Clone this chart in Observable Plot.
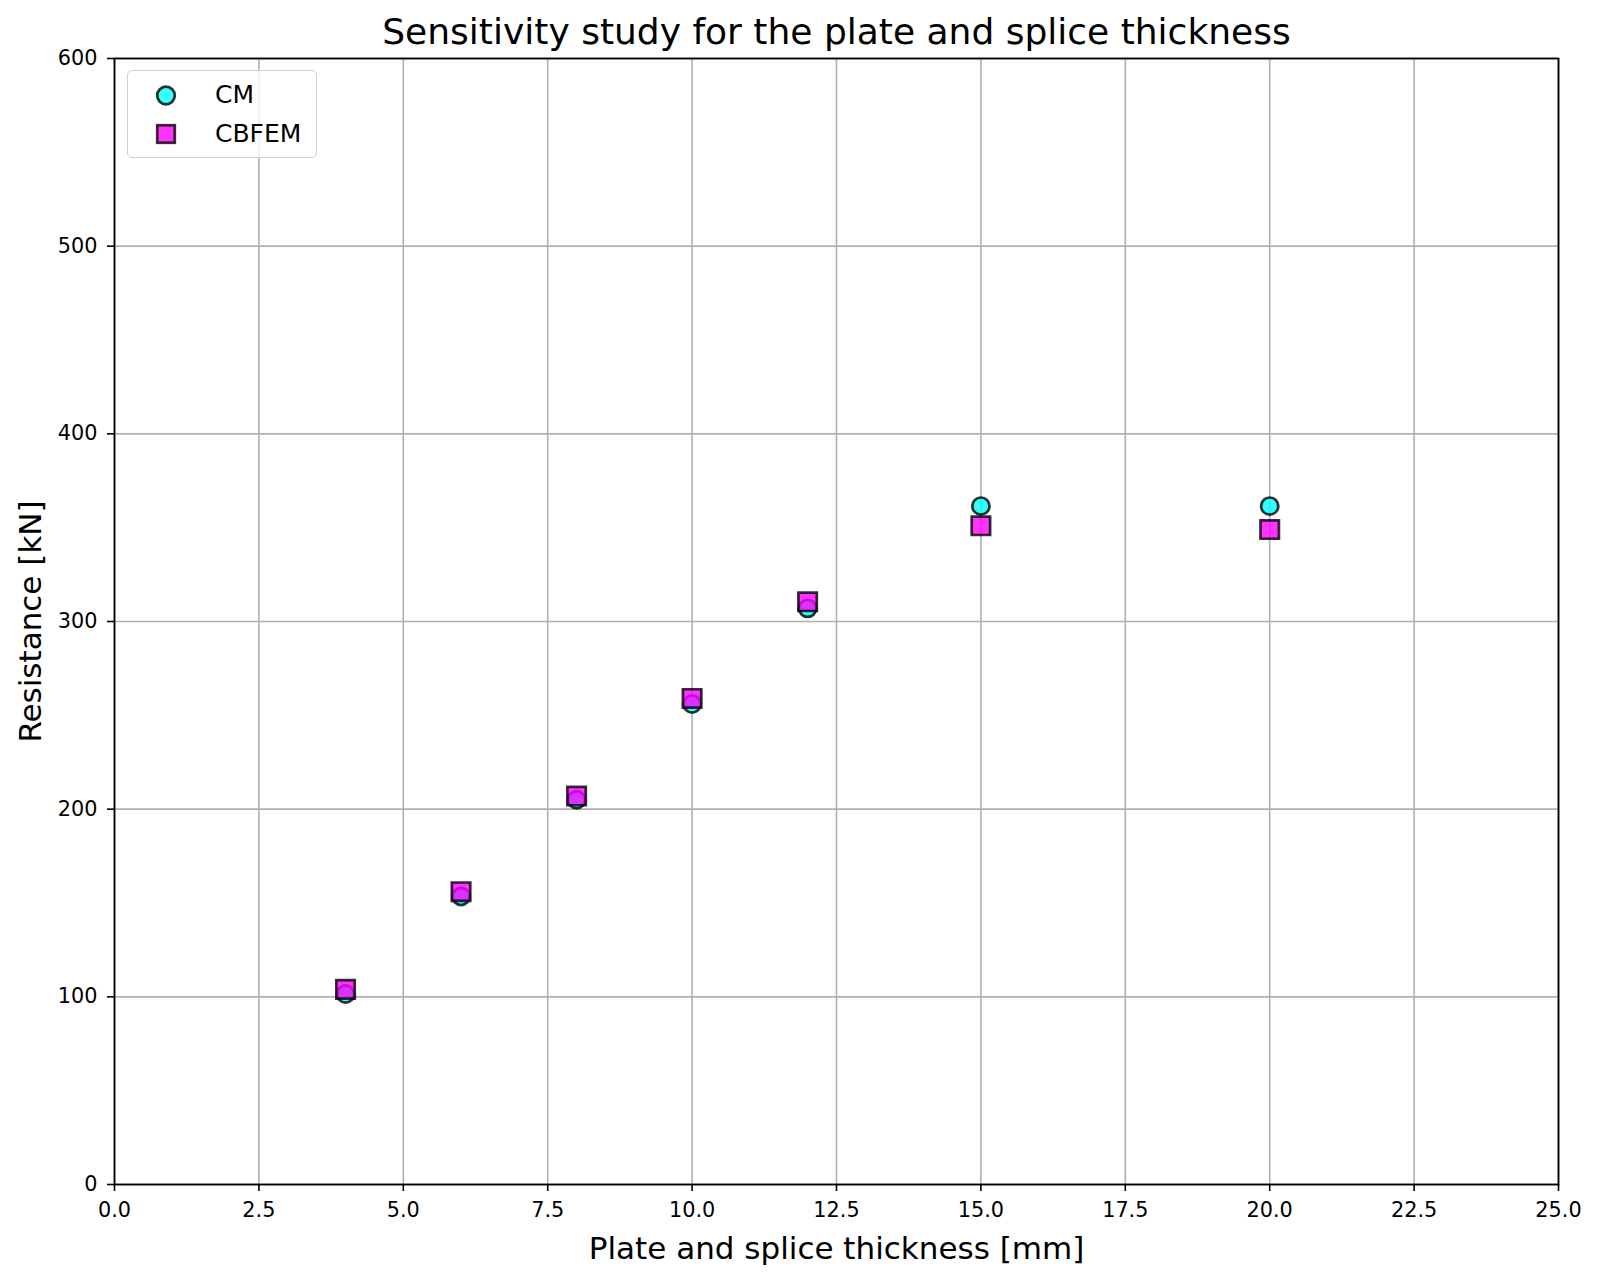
<!DOCTYPE html>
<html>
<head>
<meta charset="utf-8">
<script src="https://cdn.jsdelivr.net/npm/d3@7"></script>
<script src="https://cdn.jsdelivr.net/npm/@observablehq/plot@0.6"></script>
<style>
  html, body { margin: 0; padding: 0; background: white; }
  #wrap { position: relative; width: 1600px; height: 1279px; font-family: "DejaVu Sans", sans-serif; }
  #legend {
    position: absolute; left: 127px; top: 70px; width: 188px; height: 86px;
    border: 1.5px solid #d0d0d0; border-radius: 5px; background: rgba(255,255,255,0.8);
  }
  #legend svg { position: absolute; left: 0; top: 0; }
</style>
</head>
<body>
<div id="wrap"></div>
<script>
const titleText = "Sensitivity study for the plate and splice thickness";
const xLabelText = "Plate and splice thickness [mm]";
const yLabelText = "Resistance [kN]";
const seriesNames = ["CM", "CBFEM"];

const thickness = [4, 6, 8, 10, 12, 15, 20];
const cmValues = [101.5, 153.5, 205, 256, 307, 361.5, 361.5];
const cbfemValues = [104, 156, 207, 259, 310.5, 351, 349];

const xTicks = [0, 2.5, 5, 7.5, 10, 12.5, 15, 17.5, 20, 22.5, 25];
const yTicks = [0, 100, 200, 300, 400, 500, 600];

const cm = thickness.map((t, i) => ({t, v: cmValues[i]}));
const cbfem = thickness.map((t, i) => ({t, v: cbfemValues[i]}));

const gridStyle = {stroke: "#b0b0b0", strokeOpacity: 1, strokeWidth: 1.6};

const chart = Plot.plot({
  width: 1600,
  height: 1279,
  marginLeft: 114,
  marginRight: 42,
  marginTop: 58,
  marginBottom: 95,
  style: {fontFamily: "DejaVu Sans", background: "white", color: "black", overflow: "visible"},
  x: {domain: [0, 25]},
  y: {domain: [0, 600]},
  marks: [
    Plot.gridX(xTicks, gridStyle),
    Plot.gridY(yTicks, gridStyle),
    Plot.dot(cm, {x: "t", y: "v", symbol: "circle", r: 8.6, fill: "cyan", fillOpacity: 0.8,
                  stroke: "black", strokeOpacity: 0.8, strokeWidth: 2.7}),
    Plot.dot(cbfem, {x: "t", y: "v", symbol: "square", r: 10.4, fill: "magenta", fillOpacity: 0.8,
                  stroke: "black", strokeOpacity: 0.8, strokeWidth: 2.7}),
    Plot.axisX(xTicks, {tickSize: 7, tickPadding: 11, fontSize: 20.8, label: null,
                        tickFormat: d3.format(".1f"), strokeWidth: 1.6}),
    Plot.axisY(yTicks, {tickSize: 7, tickPadding: 10, fontSize: 20.8, label: null,
                        tickFormat: d3.format("d"), strokeWidth: 1.6}),
    Plot.frame({stroke: "black", strokeWidth: 1.8}),
    Plot.text([titleText], {text: d => d, frameAnchor: "top", lineAnchor: "top", dy: -39.6, fontSize: 36}),
    Plot.text([xLabelText], {text: d => d, frameAnchor: "bottom", lineAnchor: "top", dy: 52.5, fontSize: 31}),
    Plot.text([yLabelText], {text: d => d, frameAnchor: "left", textAnchor: "middle", lineAnchor: "top",
                             rotate: -90, dx: -96, fontSize: 31})
  ]
});

const wrap = document.getElementById("wrap");
wrap.appendChild(chart);

// legend
const legend = document.createElement("div");
legend.id = "legend";
const ns = "http://www.w3.org/2000/svg";
const lsvg = document.createElementNS(ns, "svg");
lsvg.setAttribute("width", 188);
lsvg.setAttribute("height", 86);
const items = [
  {name: seriesNames[0], fill: "cyan", shape: "circle", cy: 24.5, base: 31.5},
  {name: seriesNames[1], fill: "magenta", shape: "square", cy: 63, base: 71}
];
for (const it of items) {
  let el;
  if (it.shape === "circle") {
    el = document.createElementNS(ns, "circle");
    el.setAttribute("cx", 38); el.setAttribute("cy", it.cy); el.setAttribute("r", 8.8);
  } else {
    el = document.createElementNS(ns, "rect");
    el.setAttribute("x", 38 - 8.8); el.setAttribute("y", it.cy - 8.8);
    el.setAttribute("width", 17.6); el.setAttribute("height", 17.6);
  }
  el.setAttribute("fill", it.fill); el.setAttribute("fill-opacity", 0.8);
  el.setAttribute("stroke", "black"); el.setAttribute("stroke-opacity", 0.8);
  el.setAttribute("stroke-width", 2.7);
  lsvg.appendChild(el);
  const tx = document.createElementNS(ns, "text");
  tx.setAttribute("x", 87); tx.setAttribute("y", it.base);
  tx.setAttribute("font-size", 25); tx.setAttribute("font-family", "DejaVu Sans");
  tx.setAttribute("fill", "black");
  tx.textContent = it.name;
  lsvg.appendChild(tx);
}
legend.appendChild(lsvg);
wrap.appendChild(legend);
</script>
</body>
</html>
